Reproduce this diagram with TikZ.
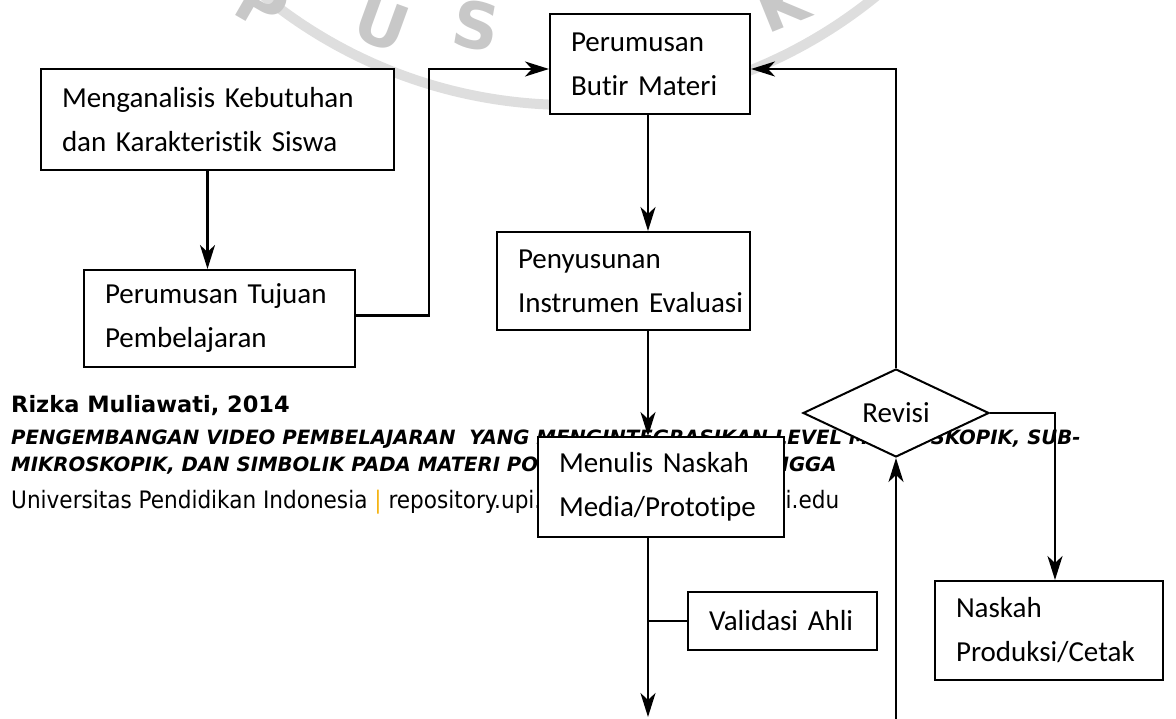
\documentclass[tikz,border=0pt]{standalone}
\usepackage{fontspec}
\setmainfont{Carlito}[Ligatures=NoCommon]
\newfontfamily\footfont{DejaVu Sans}
\newfontfamily\footcondfont{DejaVu Sans Condensed}
\usepackage{xcolor}
\usetikzlibrary{arrows.meta,shapes.geometric,backgrounds,calc}
\definecolor{upiorange}{RGB}{245,180,20}
\definecolor{markgray}{RGB}{200,200,200}
\definecolor{ringgray}{RGB}{222,222,222}

\begin{document}
\begin{tikzpicture}[x=1pt,y=-1pt,
  stepbox/.style={draw,line width=2pt,fill=white,align=left,inner xsep=21pt,inner ysep=0pt,font=\fontsize{29}{44}\selectfont},
  decision/.style={draw,line width=2pt,fill=white,shape=diamond,aspect=2.1,inner sep=0pt,minimum width=186pt,minimum height=88pt,font=\fontsize{29}{44}\selectfont},
  flow/.style={line width=2.5pt,-{Stealth[length=24pt,width=15pt,inset=7pt]}},
  footline/.style={inner sep=0pt,anchor=base west},
  watermark/.style={text=markgray,inner sep=0pt,font=\footfont\bfseries\fontsize{64}{64}\selectfont}]
\useasboundingbox (0,0) rectangle (1176,719);
\begin{scope}[on background layer]
% faded watermark
\coordinate (seal) at (570,-380);
\draw[ringgray,line width=10pt] (seal) circle[radius=485pt];
\node[watermark,rotate=-30] (wp) at (262,4) {P};
\node[watermark,rotate=-20] (wu) at (382,24) {U};
\node[watermark,rotate=-10] (ws) at (476,26) {S};
\node[watermark,rotate=22] (wk) at (782,4) {K};
\node[footline,font=\footfont\bfseries\fontsize{22.5}{27}\selectfont] (author) at (11,413) {Rizka Muliawati, 2014};
\node[footline,font=\footfont\bfseries\itshape\fontsize{19.7}{27}\selectfont] (title1) at (11,444) {PENGEMBANGAN VIDEO PEMBELAJARAN\ \ YANG MENGINTEGRASIKAN LEVEL MAKROSKOPIK, SUB-};
\node[footline,font=\footfont\bfseries\itshape\fontsize{19.7}{27}\selectfont] (title2) at (11,471) {MIKROSKOPIK, DAN SIMBOLIK PADA MATERI POKOK LARUTAN PENYANGGA};
\node[footline,font=\footcondfont\fontsize{24}{27}\selectfont] (campus) at (11,508) {Universitas Pendidikan Indonesia {\color{upiorange}|} repository.upi.edu {\color{upiorange}|} perpustakaan.upi.edu};
\end{scope}
\node[stepbox,text width=311pt,minimum height=101pt] (analisis) at (217.5,119.5) {Menganalisis Kebutuhan\\dan Karakteristik Siswa};
\node[stepbox,text width=229pt,minimum height=97pt] (tujuan) at (219.5,318.5) {Perumusan Tujuan\\Pembelajaran};
\node[stepbox,text width=158pt,minimum height=100pt] (butir) at (650,64) {Perumusan\\Butir Materi};
\node[stepbox,text width=211pt,minimum height=98pt] (instrumen) at (623.5,281) {Penyusunan\\\mbox{Instrumen Evaluasi}};
\node[stepbox,text width=204pt,minimum height=100pt] (naskah) at (661,487) {Menulis Naskah\\Media/Prototipe};
\node[stepbox,text width=186pt,minimum height=99pt] (produksi) at (1049,630.5) {Naskah\\Produksi/Cetak};
\node[stepbox,text width=147pt,minimum height=58pt] (validasi) at (782.5,621) {Validasi Ahli};
\node[decision] (revisi) at (896,413) {Revisi};
\coordinate (valend) at (648,717);
\coordinate (revin) at (896,719);
\draw[flow] ([xshift=-10pt]analisis.south) -- ([xshift=-10pt]analisis.south |- tujuan.north);
\draw[flow] ([yshift=3pt]tujuan.east) -- ++(73,0) |- ([yshift=-5pt]butir.west);
\draw[flow] ([xshift=-2pt]butir.south) -- ([xshift=-2pt]butir.south |- instrumen.north);
\draw[flow] ([xshift=-2pt]butir.south |- instrumen.south) -- ([xshift=-2pt]butir.south |- naskah.north);
\draw[flow] ([xshift=-2pt]butir.south |- naskah.south) -- (valend);
\draw[line width=2pt] (validasi.west) -- (validasi.west -| valend);
\draw[flow] (revisi.north) |- ([yshift=-5pt]butir.east);
\draw[flow] (revisi.east) -| ([xshift=6pt]produksi.north);
\draw[flow] (revin) -- (revisi.south);
\end{tikzpicture}
\end{document}
